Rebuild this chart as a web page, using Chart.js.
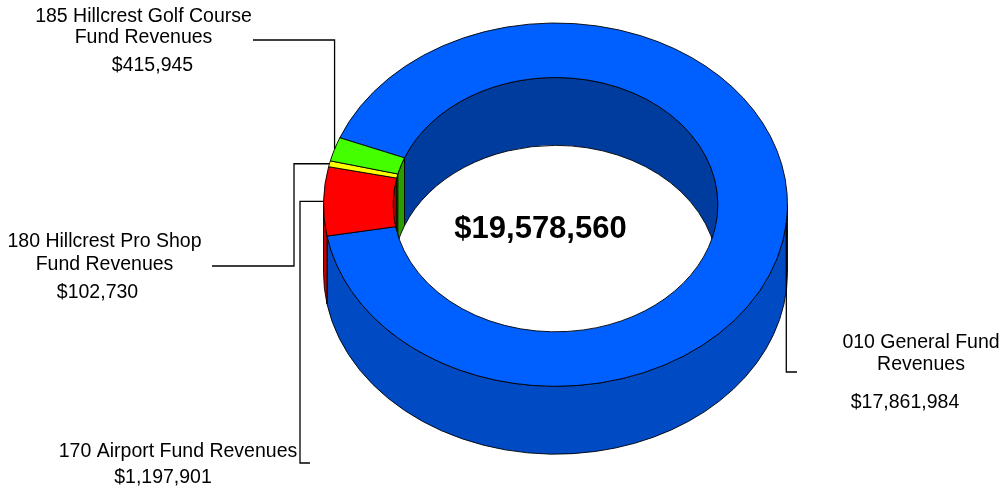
<!DOCTYPE html>
<html>
<head>
<meta charset="utf-8">
<title>Fund Revenues</title>
<script src="https://cdn.jsdelivr.net/npm/chart.js@4/dist/chart.umd.min.js"></script>
<style>
  html, body { margin: 0; padding: 0; background: #ffffff; }
  canvas { display: block; }
</style>
</head>
<body>
<canvas id="ring" width="1001" height="491"></canvas>
<script>
// Fund names and revenue amounts, in slice order (clockwise)
const funds = [
  '010 General Fund Revenues',
  '170 Airport Fund Revenues',
  '180 Hillcrest Pro Shop Fund Revenues',
  '185 Hillcrest Golf Course Fund Revenues'
];
const revenues = [17861984, 1197901, 102730, 415945];

// How each fund name is broken over lines in its callout
const calloutLines = [
  ['010 General Fund', 'Revenues'],
  ['170 Airport Fund Revenues'],
  ['180 Hillcrest Pro Shop', 'Fund Revenues'],
  ['185 Hillcrest Golf Course', 'Fund Revenues']
];

// Slice colours for the top face
const sliceColors = ['#0060FF', '#FF0000', '#FFFF00', '#44FF00'];

// Ring geometry
const TILT = 0.783;          // vertical squash of the ring seen at an angle
const DEPTH_RATIO = 0.2925;  // wall height relative to outer radius
const OUTER_SHADE = 0.77;    // front outer wall darkening
const INNER_SHADE = 0.62;    // back inner wall darkening

// Callout placement: text block centre / baselines, value line, and leader route
const callouts = [
  { x: 921, lines: [348, 370], vx: 905, vy: 408, route: [['v', 372], ['h', 797]] },
  { x: 178, lines: [457],      vx: 163, vy: 483, route: [['h', 300], ['v', 463], ['h', 310]] },
  { x: 104.5, lines: [247, 270], vx: 97.5, vy: 298, route: [['h', 294], ['v', 266], ['h', 212]] },
  { x: 143.5, lines: [22, 43],  vx: 152.5, vy: 71,  route: [['v', 40], ['h', 253]] }
];

const LABEL_FONT = '19.5px "Liberation Sans", Arial, sans-serif';
const TOTAL_FONT = 'bold 31px "Liberation Sans", Arial, sans-serif';

function money(n) {
  return '$' + n.toLocaleString('en-US');
}

function shade(hex, f) {
  const v = parseInt(hex.slice(1), 16);
  const r = Math.round(((v >> 16) & 255) * f);
  const g = Math.round(((v >> 8) & 255) * f);
  const b = Math.round((v & 255) * f);
  return 'rgb(' + r + ',' + g + ',' + b + ')';
}

// Parts of the angle range [s, e] that fall inside [lo, hi] (any turn)
function spans(s, e, lo, hi) {
  const out = [];
  const T = Math.PI * 2;
  for (let n = -3; n <= 3; n++) {
    const a = Math.max(s, lo + n * T);
    const b = Math.min(e, hi + n * T);
    if (b > a) out.push([a, b]);
  }
  return out;
}

// One curved wall strip between the top edge and the same edge dropped by d
function wall(ctx, cx, cy, r, s, e, d, fill) {
  ctx.beginPath();
  ctx.arc(cx, cy, r, s, e);
  ctx.lineTo(cx + r * Math.cos(e), cy + r * Math.sin(e) + d);
  ctx.arc(cx, cy + d, r, e, s, true);
  ctx.closePath();
  ctx.fillStyle = fill;
  ctx.fill();
  ctx.lineWidth = 1;
  ctx.strokeStyle = '#000000';
  ctx.stroke();
}

function ringFrame(chart) {
  const arcs = chart.getDatasetMeta(0).data;
  const R = arcs[0].outerRadius;
  const cx = arcs[0].x;
  const cy = arcs[0].y;
  const yc = chart.chartArea.top + TILT * R;
  return { arcs, R, cx, cy, yc };
}

const ring3d = {
  id: 'ring3d',
  beforeDraw(chart) {
    const ctx = chart.ctx;
    ctx.save();
    ctx.fillStyle = '#ffffff';
    ctx.fillRect(0, 0, chart.width, chart.height);
    ctx.restore();
  },
  beforeDatasetsDraw(chart) {
    const ctx = chart.ctx;
    const { arcs, R, cx, cy, yc } = ringFrame(chart);
    const d = DEPTH_RATIO * R / TILT;
    ctx.save();
    ctx.translate(0, yc);
    ctx.scale(1, TILT);
    ctx.translate(0, -cy);
    // back half of the inner wall, seen through the hole
    arcs.forEach((arc, i) => {
      spans(arc.startAngle, arc.endAngle, Math.PI, Math.PI * 2).forEach(([s, e]) => {
        wall(ctx, cx, cy, arc.innerRadius, s, e, d, shade(sliceColors[i], INNER_SHADE));
      });
    });
    // front half of the outer wall
    arcs.forEach((arc, i) => {
      spans(arc.startAngle, arc.endAngle, 0, Math.PI).forEach(([s, e]) => {
        wall(ctx, cx, cy, arc.outerRadius, s, e, d, shade(sliceColors[i], OUTER_SHADE));
      });
    });
    // the top face is drawn by the doughnut itself under this transform
  },
  afterDatasetsDraw(chart) {
    const ctx = chart.ctx;
    ctx.restore();
    const { arcs, R, cx, yc } = ringFrame(chart);

    // leader lines from each slice's outer edge
    ctx.save();
    ctx.strokeStyle = '#000000';
    ctx.lineWidth = 1.3;
    arcs.forEach((arc, i) => {
      const mid = (arc.startAngle + arc.endAngle) / 2;
      let x = cx + arc.outerRadius * Math.cos(mid);
      let y = yc + TILT * arc.outerRadius * Math.sin(mid);
      ctx.beginPath();
      ctx.moveTo(x, y);
      callouts[i].route.forEach(([dir, v]) => {
        if (dir === 'h') x = v; else y = v;
        ctx.lineTo(x, y);
      });
      ctx.stroke();
    });

    // callout text
    ctx.fillStyle = '#000000';
    ctx.textAlign = 'center';
    ctx.textBaseline = 'alphabetic';
    ctx.font = LABEL_FONT;
    callouts.forEach((c, i) => {
      calloutLines[i].forEach((line, j) => ctx.fillText(line, c.x, c.lines[j]));
      ctx.fillText(money(revenues[i]), c.vx, c.vy);
    });

    // grand total in the hole
    const total = revenues.reduce((a, b) => a + b, 0);
    ctx.font = TOTAL_FONT;
    ctx.fillText(money(total), cx - 15, yc + 33);
    ctx.restore();
  }
};

new Chart(document.getElementById('ring'), {
  type: 'doughnut',
  data: {
    labels: funds,
    datasets: [{
      data: revenues,
      backgroundColor: sliceColors,
      borderColor: '#000000',
      borderWidth: 1,
      clip: false
    }]
  },
  options: {
    responsive: false,
    animation: false,
    events: [],
    cutout: '70%',
    rotation: 291.6,
    layout: { padding: { left: 323, right: 213, top: 23, bottom: 3 } },
    plugins: {
      legend: { display: false },
      tooltip: { enabled: false }
    }
  },
  plugins: [ring3d]
});
</script>
</body>
</html>
